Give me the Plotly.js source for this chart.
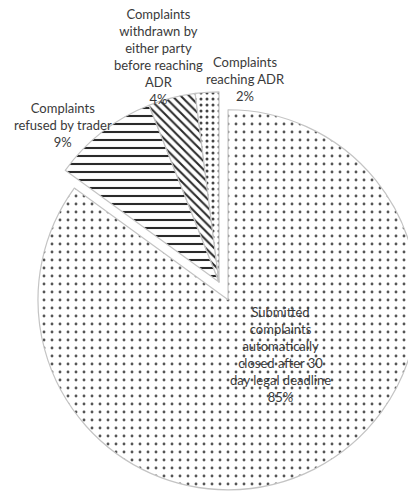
<!DOCTYPE html>
<html>
<head>
<meta charset="utf-8">
<script src="https://cdn.plot.ly/plotly-3.0.1.min.js"></script>
<style>
html,body{margin:0;padding:0;background:#fff;overflow:hidden;width:408px;height:495px;}
#chart{width:438px;height:495px;}
</style>
</head>
<body>
<div id="chart"></div>
<script>
// Data
const labels = [
  "Submitted<br>complaints<br>automatically<br>closed after 30<br>day legal deadline",
  "Complaints<br>refused by trader",
  "Complaints<br>withdrawn by<br>either party<br>before reaching<br>ADR",
  "Complaints<br>reaching ADR"
];
const values = [85, 9, 4, 2];

// Styling (not data)
const W = 438, H = 495;
const labelPx = [[280, 354], [63, 125], [158, 56], [245, 79]];
const patternShapes = [".", "-", "\\", "."];
const patternSizes = [8, 8, 6, 6];
const patternSolidity = [0.1, 0.26, 0.34, 0.2];
const patternColors = ["#555555", "#2a2a2a", "#2a2a2a", "#444444"];
const pulls = [0.105, 0, 0, 0];

const total = values.reduce((a, b) => a + b, 0);
const pctText = values.map(v => Math.round(v / total * 100) + "%");

const trace = {
  type: "pie",
  labels: labels,
  values: values,
  sort: false,
  direction: "clockwise",
  rotation: 0,
  pull: pulls,
  textinfo: "none",
  hoverinfo: "skip",
  showlegend: false,
  domain: { x: [0, 1], y: [3 / H, 423 / H] },
  marker: {
    colors: ["#ffffff", "#ffffff", "#ffffff", "#ffffff"],
    line: { color: "#c4c4c4", width: 1.2 },
    pattern: {
      shape: patternShapes,
      size: patternSizes,
      solidity: patternSolidity,
      fgcolor: patternColors,
      bgcolor: "#ffffff",
      fillmode: "replace"
    }
  }
};

const annotations = labels.map((l, i) => ({
  xref: "paper", yref: "paper",
  x: labelPx[i][0] / W,
  y: 1 - labelPx[i][1] / H,
  xanchor: "center", yanchor: "middle",
  text: l + "<br>" + pctText[i],
  showarrow: false,
  align: "center",
  font: { family: "Lato, 'Open Sans', sans-serif", size: 13, color: "#3a3a3a" }
}));

const layout = {
  width: W, height: H,
  margin: { l: 0, r: 0, t: 0, b: 0 },
  paper_bgcolor: "#ffffff",
  plot_bgcolor: "#ffffff",
  annotations: annotations
};

Plotly.newPlot("chart", [trace], layout, { staticPlot: true, displayModeBar: false });
</script>
</body>
</html>
